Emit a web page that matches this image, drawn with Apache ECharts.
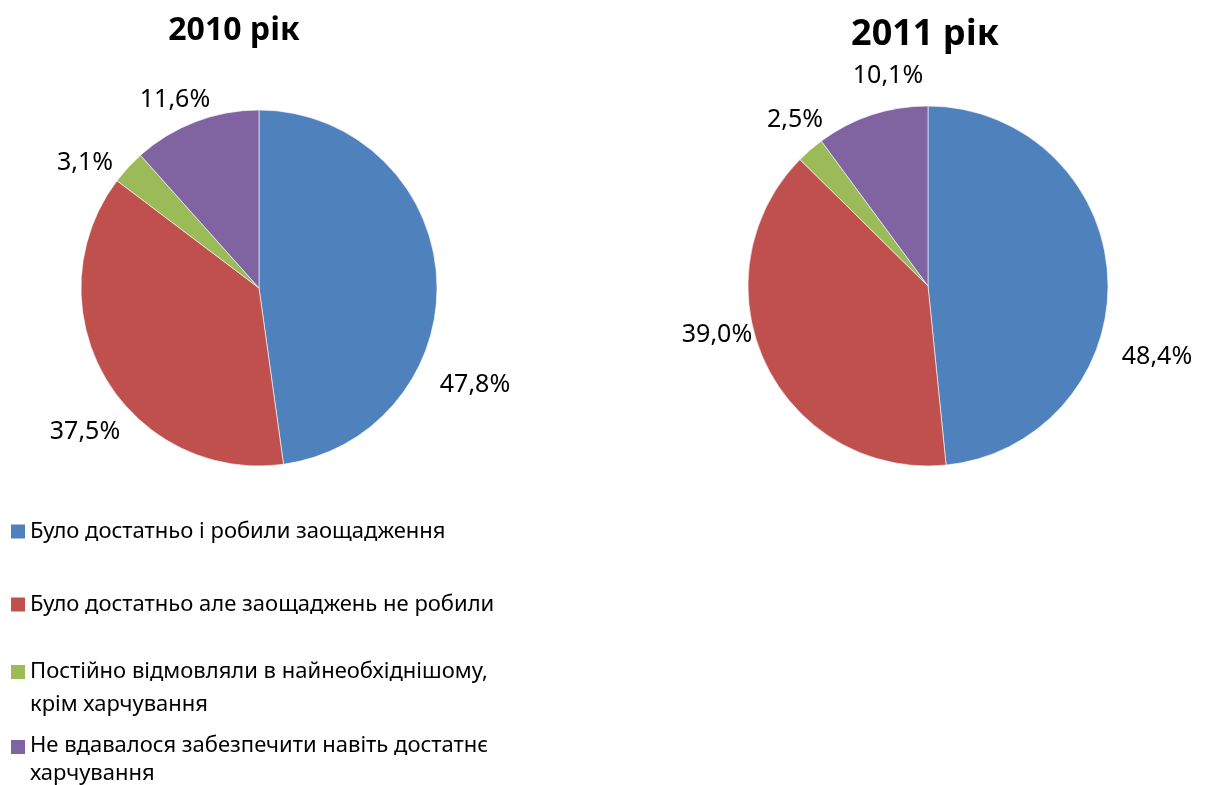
<!DOCTYPE html>
<html>
<head>
<meta charset="utf-8">
<script src="https://cdn.jsdelivr.net/npm/echarts@6/dist/echarts.min.js"></script>
<style>
    html, body {margin: 0; padding: 0; background: #fff;}
    #main {width: 1205px; height: 785px;}
</style>
</head>
<body>
<div id="main"></div>
<script>
    // дані
    var categories = [
        'Було достатньо і робили заощадження',
        'Було достатньо але заощаджень не робили',
        'Постійно відмовляли в найнеобхіднішому,\nкрім харчування',
        'Не вдавалося забезпечити навіть достатнє\nхарчування'
    ];
    var values2010 = [47.8, 37.5, 3.1, 11.6];
    var values2011 = [48.4, 39.0, 2.5, 10.1];
    var titles = ['2010 рік', '2011 рік'];

    var colors = ['#4F81BD', '#C0504D', '#9BBB59', '#8064A2'];
    var font = 'Noto Sans';

    // положення підписів (як у Excel)
    var labelPos2010 = [[475, 385], [85, 432], [85, 163], [175, 100]];
    var labelPos2011 = [[1157, 357], [717, 335], [795, 120], [888, 76]];

    var myChart = echarts.init(document.getElementById('main'));

    function toData(vals) {
        var arr = [];
        for (var a = 0; a < vals.length; a++) {
            arr.push({name: categories[a], value: vals[a]});
        }
        return arr;
    }

    function makePie(vals, center, radius, pos) {
        return {
            type: 'pie',
            center: center,
            radius: radius,
            startAngle: 90,
            clockwise: true,
            animation: false,
            data: toData(vals),
            itemStyle: {borderColor: '#fff', borderWidth: 0.6},
            label: {
                show: true,
                position: 'outside',
                fontFamily: font,
                fontSize: 25,
                color: '#000',
                overflow: 'none',
                width: 120,
                formatter: function (p) {
                    return p.value.toFixed(1).replace('.', ',') + '%';
                }
            },
            labelLine: {show: false},
            labelLayout: function (p) {
                return {
                    x: pos[p.dataIndex][0],
                    y: pos[p.dataIndex][1],
                    align: 'center',
                    verticalAlign: 'middle'
                };
            }
        };
    }

    // окрема легенда для кожного пункту
    var legendTops = [515, 588, 655, 732];
    var legendLineH = [33, 33, 33, 28];
    var legendIconH = [14, 14, 46, 40];
    var legends = [];
    for (var a = 0; a < categories.length; a++) {
        var twoLines = categories[a].indexOf('\n') >= 0;
        legends.push({
            data: [categories[a]],
            orient: 'vertical',
            left: 11,
            top: legendTops[a],
            itemWidth: 14,
            itemHeight: legendIconH[a],
            icon: twoLines ? 'path://M0,0L14,0L14,14L0,14Z M0,' + legendIconH[a] : 'rect',
            itemGap: 0,
            itemStyle: {borderWidth: 0},
            selectedMode: false,
            textStyle: {fontFamily: font, fontSize: 22, color: '#000', lineHeight: legendLineH[a]},
            padding: 0
        });
    }

    var option = {
        color: colors,
        animation: false,
        title: [
            {
                text: titles[0], left: 229, top: 10, textAlign: 'center',
                textStyle: {fontFamily: font, fontSize: 32, fontWeight: 'bold', color: '#000'}
            },
            {
                text: titles[1], left: 920, top: 12, textAlign: 'center',
                textStyle: {fontFamily: font, fontSize: 36, fontWeight: 'bold', color: '#000'}
            }
        ],
        legend: legends,
        series: [
            makePie(values2010, [259, 288], 178, labelPos2010),
            makePie(values2011, [928, 286], 180, labelPos2011)
        ]
    };

    myChart.setOption(option);
</script>
</body>
</html>
